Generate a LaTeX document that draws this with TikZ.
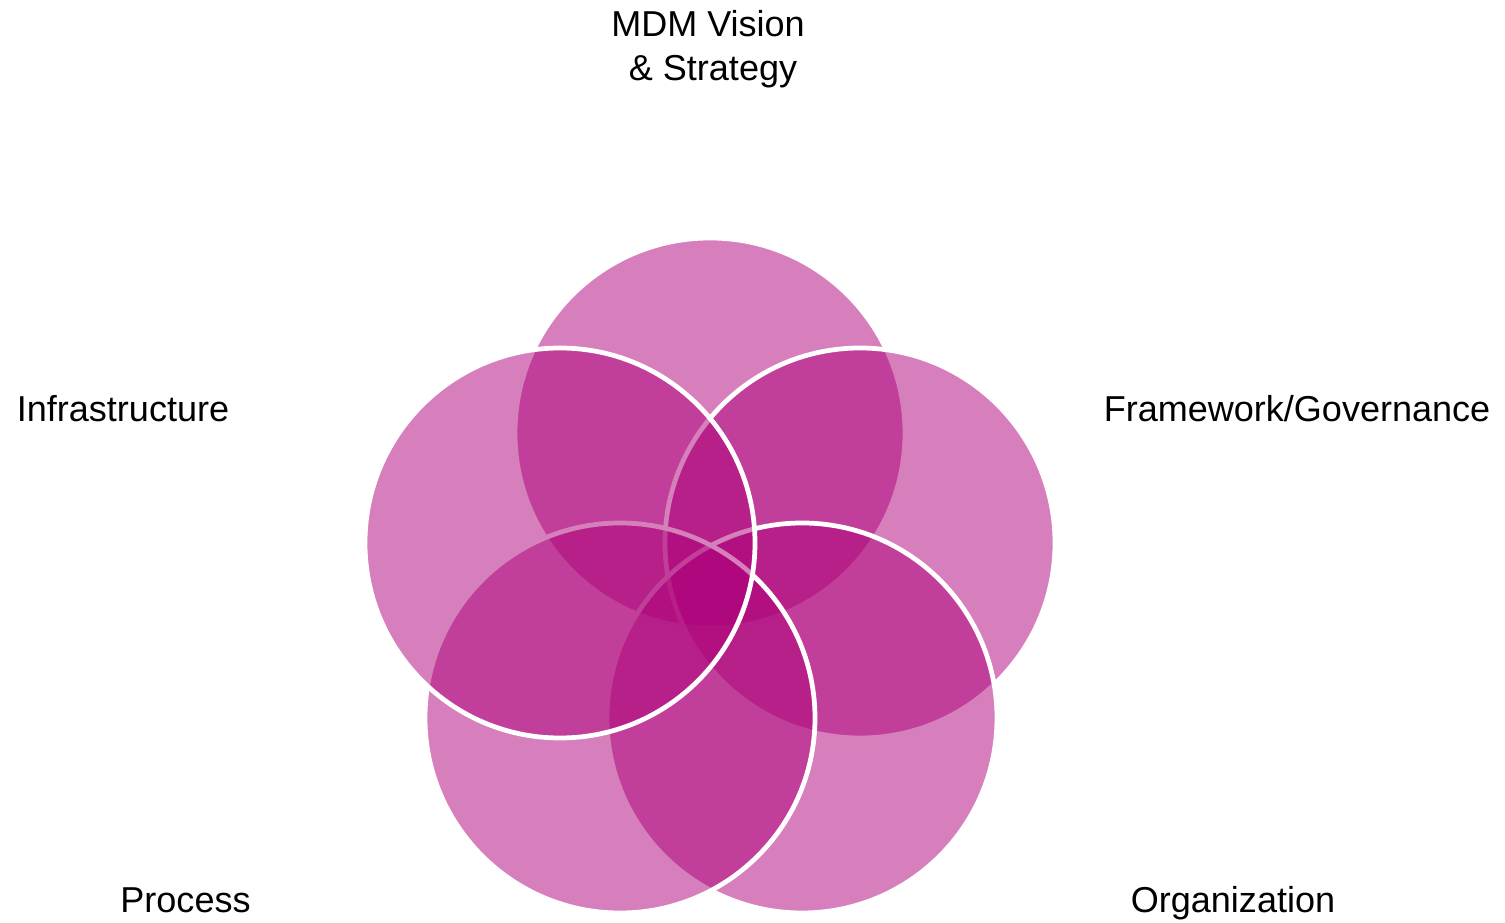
\documentclass[tikz,border=0pt]{standalone}
\usepackage{fontspec}
\setmainfont{Liberation Sans}
\usepackage{tikz}
\definecolor{mdmpink}{RGB}{173,0,121}

\begin{document}
\begin{tikzpicture}[
    petal/.style={fill=mdmpink, fill opacity=0.5, draw=white, line width=2.7pt},
    lbl/.style={font=\fontsize{20.5}{25}\selectfont}
  ]
    \useasboundingbox (0,0) rectangle (30.1,18.44);
    \draw[petal] (14.2,9.78) circle (3.9cm);
    \draw[petal] (17.2,7.58) circle (3.9cm);
    \draw[petal] (16.04,4.08) circle (3.9cm);
    \draw[petal] (12.4,4.08) circle (3.9cm);
    \draw[petal] (11.2,7.58) circle (3.9cm);
    \node[lbl, align=center] (vision) at (14.16,17.46) {MDM Vision\\ \hspace{0.278em}\& Strategy};
    \node[lbl, anchor=base] (infra) at (2.46,10.0) {Infrastructure};
    \node[lbl, anchor=base] (frame) at (25.94,10.0) {Framework/Governance};
    \node[lbl, anchor=base] (proc) at (3.71,0.18) {Process};
    \node[lbl, anchor=base] (org) at (24.66,0.18) {Organization};
  \end{tikzpicture}
\end{document}
